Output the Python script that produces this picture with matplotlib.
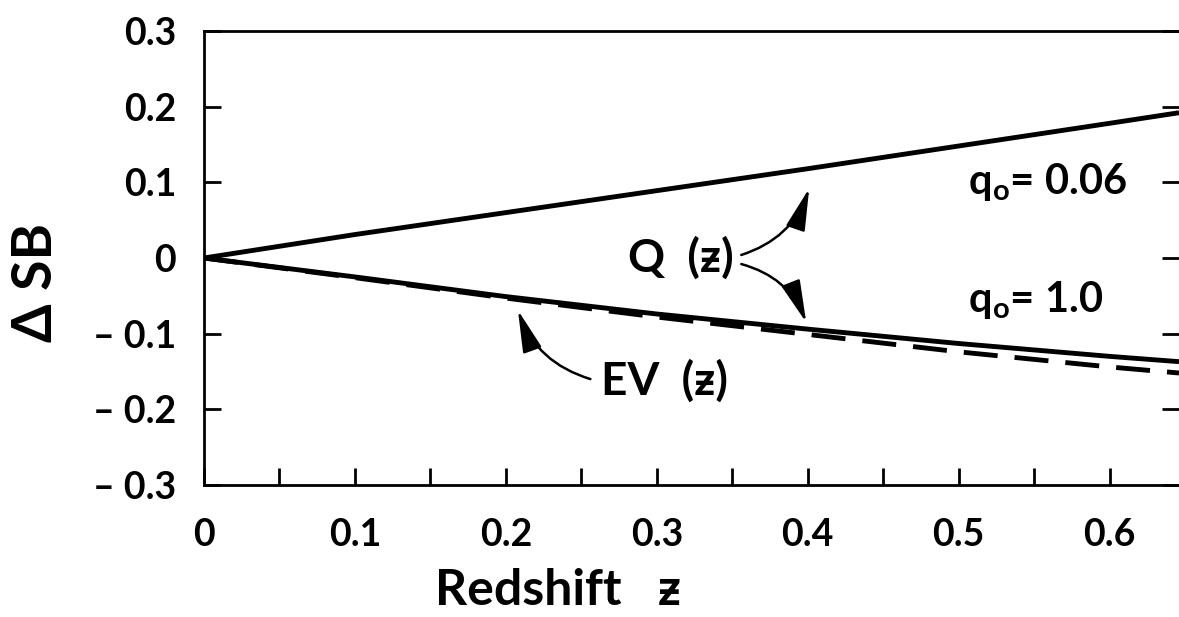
import numpy as np
import matplotlib.pyplot as plt
from matplotlib.ticker import FixedLocator, FixedFormatter

plt.rcParams['font.family'] = ['Lato', 'DejaVu Sans']
plt.rcParams['font.weight'] = 'bold'
plt.rcParams['mathtext.fontset'] = 'custom'
plt.rcParams['mathtext.rm'] = 'Lato:bold'

# -------------------------------------------------
# Data
# -------------------------------------------------
z = [0.0, 0.1, 0.2, 0.3, 0.4, 0.5, 0.6, 0.646]
q_006 = [0.0, 0.031, 0.060, 0.089, 0.118, 0.148, 0.178, 0.192]
q_10 = [0.0, -0.025, -0.051, -0.074, -0.094, -0.113, -0.130, -0.137]
ev = [0.0, -0.026, -0.053, -0.078, -0.101, -0.124, -0.144, -0.152]

x_ticks = [0, 0.1, 0.2, 0.3, 0.4, 0.5, 0.6]
x_labels = ['0', '0.1', '0.2', '0.3', '0.4', '0.5', '0.6']
y_ticks = [-0.3, -0.2, -0.1, 0, 0.1, 0.2, 0.3]
y_labels = ['\u2013 0.3', '\u2013 0.2', '\u2013 0.1', '0', '0.1', '0.2', '0.3']

# -------------------------------------------------
# Plot
# -------------------------------------------------
fig = plt.figure(figsize=(11.79, 6.17), dpi=100)
ax = fig.add_axes([204/1179, 132/617, 975/1179, 454/617])

ax.plot(z, q_006, 'k', linewidth=3.5, solid_capstyle='butt')
ax.plot(z, q_10, 'k', linewidth=3.5, solid_capstyle='butt')
ax.plot(z, ev, 'k', linewidth=3.5, dashes=(7, 3.5))

ax.set_xlim(0, 0.646)
ax.set_ylim(-0.3, 0.3)

ax.xaxis.set_major_locator(FixedLocator(x_ticks))
ax.xaxis.set_major_formatter(FixedFormatter(x_labels))
ax.xaxis.set_minor_locator(FixedLocator([0.05, 0.15, 0.25, 0.35, 0.45, 0.55]))
ax.yaxis.set_major_locator(FixedLocator(y_ticks))
ax.yaxis.set_major_formatter(FixedFormatter(y_labels))

ax.tick_params(axis='both', which='both', direction='in', width=2, length=12,
               labelsize=27, pad=20)
ax.tick_params(axis='y', right=True)
ax.tick_params(axis='x', pad=24)
for lab in ax.get_xticklabels() + ax.get_yticklabels():
    lab.set_fontweight('bold')

for s in ['left', 'bottom', 'top']:
    ax.spines[s].set_linewidth(2)
ax.spines['right'].set_visible(False)

ax.set_xlabel('Redshift   \u01b6', fontsize=36, fontweight='bold', va='center')
ax.xaxis.set_label_coords(0.363, -0.232)
ax.set_ylabel('\u0394 SB', fontsize=40, fontweight='bold', va='center')
ax.yaxis.set_label_coords(-0.172, 0.447)

# annotations
ax.text(0.316, 0.0, 'Q  (\u01b6)', fontsize=33, fontweight='bold',
        ha='center', va='center')
ax.text(0.305, -0.163, 'EV  (\u01b6)', fontsize=33, fontweight='bold',
        ha='center', va='center')
ax.text(0.506, 0.10, '$\\mathregular{q_o}$= 0.06', fontsize=30,
        fontweight='bold', ha='left', va='center')
ax.text(0.506, -0.055, '$\\mathregular{q_o}$= 1.0', fontsize=30,
        fontweight='bold', ha='left', va='center')

arrow = dict(arrowstyle='-|>,head_length=1.3,head_width=0.3', color='k',
             linewidth=1.8, shrinkA=0, shrinkB=0, mutation_scale=20)
ax.annotate('', xy=(0.401, 0.092), xytext=(0.356, 0.004),
            arrowprops=dict(connectionstyle='arc3,rad=0.25', **arrow))
ax.annotate('', xy=(0.399, -0.085), xytext=(0.356, -0.008),
            arrowprops=dict(connectionstyle='arc3,rad=-0.25', **arrow))
ax.annotate('', xy=(0.208, -0.069), xytext=(0.256, -0.16),
            arrowprops=dict(connectionstyle='arc3,rad=-0.25', **arrow))

fig.savefig('out.png', dpi=100)
